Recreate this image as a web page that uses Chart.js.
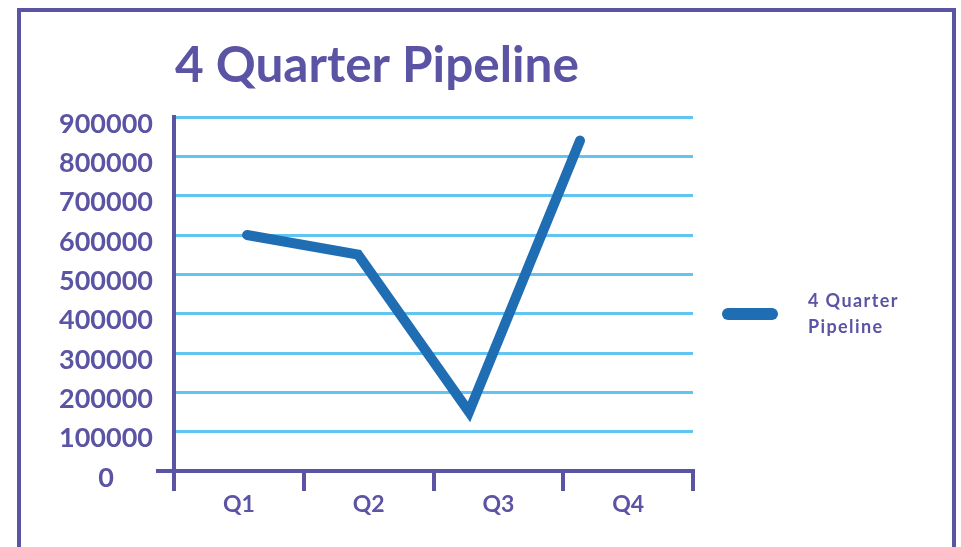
<!DOCTYPE html>
<html>
<head>
<meta charset="utf-8">
<script src="https://cdn.jsdelivr.net/npm/chart.js@4/dist/chart.umd.min.js"></script>
<style>
  html, body { margin: 0; padding: 0; background: #fff; }
  body { width: 961px; height: 547px; position: relative; overflow: hidden; }
  #frame {
    position: absolute; left: 17px; top: 8px; width: 931px; height: 600px;
    border: 4px solid #5b53a4; pointer-events: none;
  }
  #pipe { position: absolute; left: 0; top: 0; }
</style>
</head>
<body>
<canvas id="pipe" width="961" height="547"></canvas>
<div id="frame"></div>
<script>
// ----- Data -----
const chartTitle = "4 Quarter Pipeline";
const quarters = ["Q1", "Q2", "Q3", "Q4"];
const pipeline = [600000, 550000, 150000, 840000];
const yTicks = [0, 100000, 200000, 300000, 400000, 500000, 600000, 700000, 800000, 900000];

// ----- Colours -----
const PURPLE = "#5b53a4";
const GRID = "#62c5f1";
const LINE = "#1f6db3";
const FONT = "Lato, 'DejaVu Sans', sans-serif";

// title drawn left-aligned with the plot area
const titlePlugin = {
  id: "leftTitle",
  afterDraw(chart) {
    const c = chart.ctx;
    c.save();
    c.fillStyle = PURPLE;
    c.font = `bold 49.5px ${FONT}`;
    c.textBaseline = "alphabetic";
    c.fillText(chartTitle, chart.chartArea.left + 1, 82);
    c.restore();
  }
};

// two-line legend on the right
const legendPlugin = {
  id: "sideLegend",
  afterDraw(chart) {
    const c = chart.ctx;
    const ds = chart.data.datasets[0];
    c.save();
    c.strokeStyle = ds.borderColor;
    c.lineWidth = 12;
    c.lineCap = "round";
    c.beginPath();
    c.moveTo(728, 314);
    c.lineTo(772, 314);
    c.stroke();
    c.fillStyle = PURPLE;
    c.font = `bold 18px ${FONT}`;
    c.letterSpacing = "1.4px";
    const words = ds.label.split(" ");
    c.fillText(words.slice(0, 2).join(" "), 808, 307);
    c.fillText(words.slice(2).join(" "), 808, 333);
    c.restore();
  }
};

const ctx = document.getElementById("pipe").getContext("2d");
new Chart(ctx, {
  type: "line",
  data: {
    labels: quarters,
    datasets: [{
      label: chartTitle,
      data: pipeline.map((v, i) => ({ x: i, y: v })),
      xAxisID: "xLine",
      borderColor: LINE,
      borderWidth: 10,
      borderCapStyle: "round",
      borderJoinStyle: "miter",
      pointRadius: 0,
      tension: 0,
      fill: false
    }]
  },
  options: {
    responsive: false,
    animation: false,
    layout: { padding: { top: 117, right: 268, bottom: 0, left: 0 } },
    plugins: { legend: { display: false }, title: { display: false }, tooltip: { enabled: false } },
    scales: {
      x: {
        type: "category",
        offset: true,
        grid: {
          offset: true,
          drawOnChartArea: false,
          color: PURPLE,
          lineWidth: 4,
          tickLength: 20
        },
        border: { display: true, color: PURPLE, width: 4 },
        ticks: { color: PURPLE, font: { family: FONT, size: 23, weight: "bold" }, padding: 0 },
        afterFit(s) { s.height = 76; }
      },
      xLine: {
        type: "linear",
        display: false,
        min: -0.658,
        max: 4.018
      },
      y: {
        min: 0,
        max: 900000,
        afterBuildTicks(s) { s.ticks = yTicks.map(v => ({ value: v })); },
        grid: {
          color: c => (c.tick && c.tick.value === 0 ? PURPLE : GRID),
          lineWidth: c => (c.tick && c.tick.value === 0 ? 4 : 3),
          tickColor: c => (c.tick && c.tick.value === 0 ? PURPLE : "rgba(0,0,0,0)"),
          tickWidth: 4,
          tickLength: 18
        },
        border: { display: true, color: PURPLE, width: 4 },
        ticks: {
          color: PURPLE,
          font: { family: FONT, size: 27, weight: "bold" },
          padding: 3,
          labelOffset: 7,
          crossAlign: "center",
          callback: v => String(v)
        },
        afterFit(s) { s.width = 174; }
      }
    }
  },
  plugins: [titlePlugin, legendPlugin]
});
</script>
</body>
</html>
